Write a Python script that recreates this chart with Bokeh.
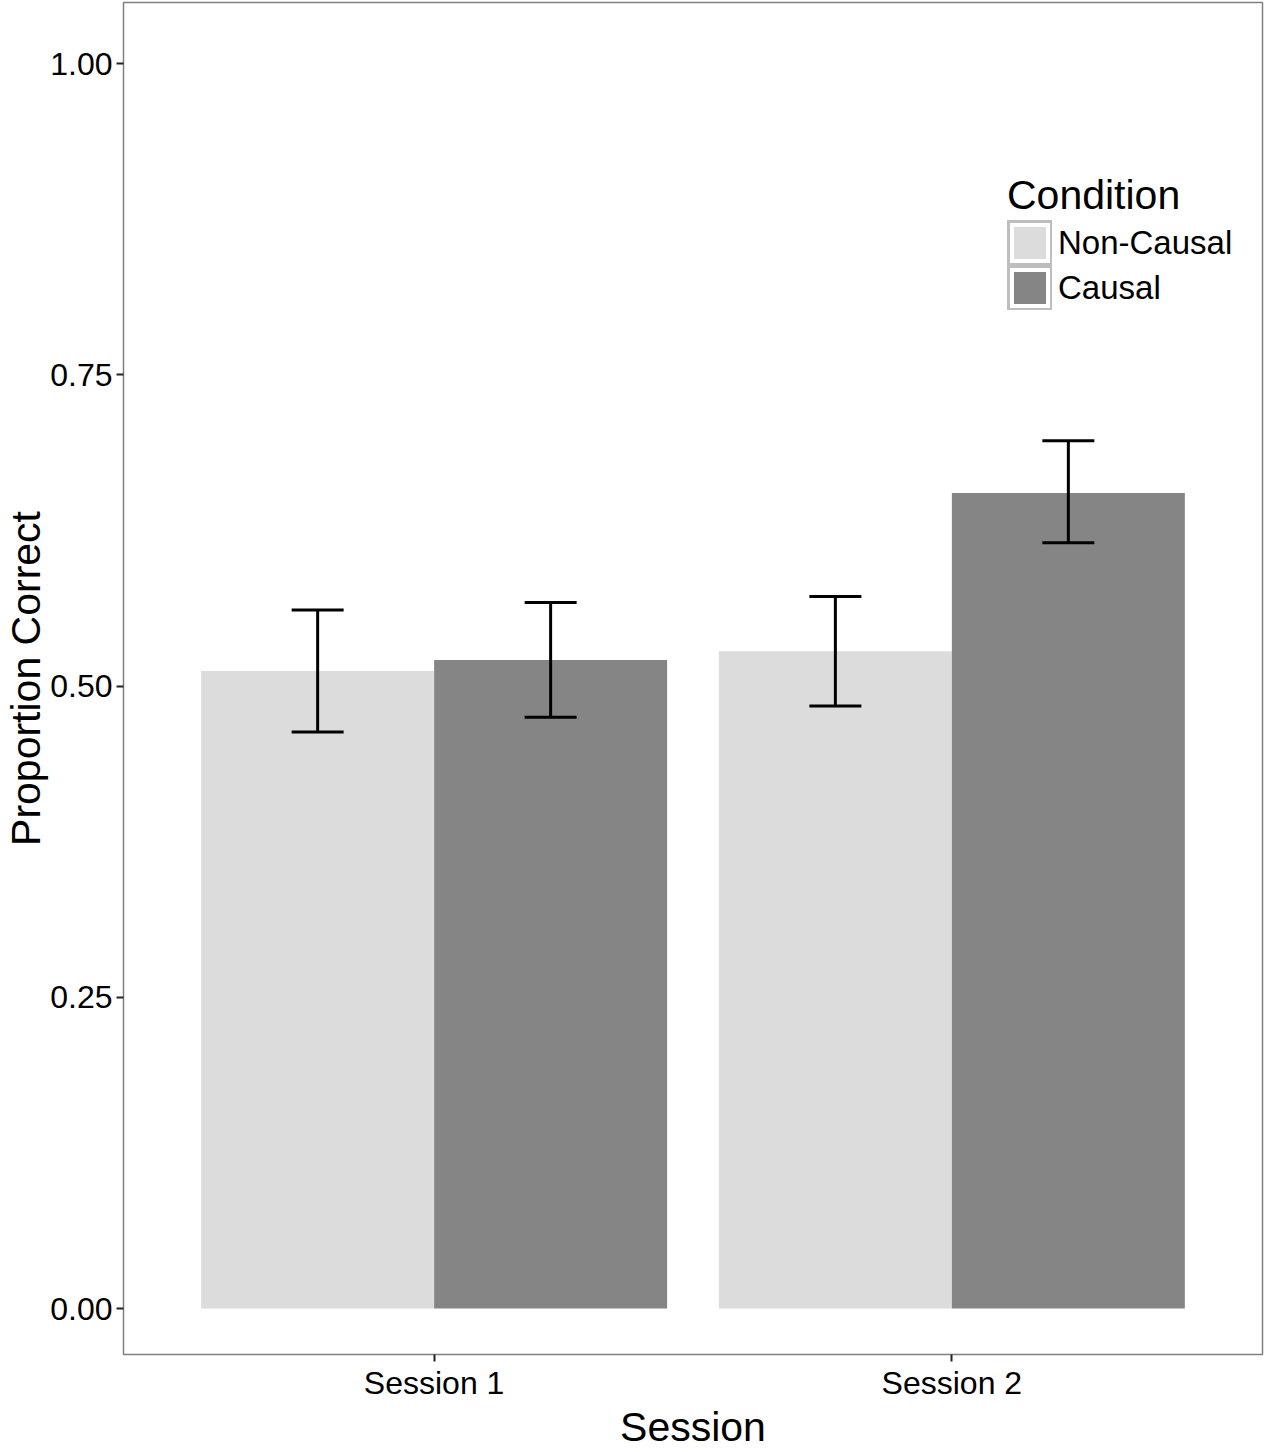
from bokeh.plotting import figure
from bokeh.models import (ColumnDataSource, FactorRange, Range1d, FixedTicker,
                          NumeralTickFormatter, Whisker, TeeHead, Legend, LegendItem)
from bokeh.transform import dodge
from bokeh.embed import file_html
from bokeh.resources import INLINE

# ---- data ----
sessions = ["Session 1", "Session 2"]
conditions = ["Non-Causal", "Causal"]
noncausal_mean = [0.512, 0.528]
noncausal_upper = [0.561, 0.572]
noncausal_lower = [0.463, 0.484]
causal_mean = [0.521, 0.655]
causal_upper = [0.567, 0.697]
causal_lower = [0.475, 0.615]
y_ticks = [0.0, 0.25, 0.5, 0.75, 1.0]

colors = {"Non-Causal": "#DCDCDC", "Causal": "#858585"}
FONT = "Liberation Sans"

src_nc = ColumnDataSource(dict(session=sessions, top=noncausal_mean,
                               upper=noncausal_upper, lower=noncausal_lower))
src_c = ColumnDataSource(dict(session=sessions, top=causal_mean,
                              upper=causal_upper, lower=causal_lower))

x_range = FactorRange(factors=sessions, range_padding=0.1, range_padding_units="absolute")
p = figure(width=1267, height=1452, x_range=x_range, y_range=Range1d(-0.0369, 1.049),
           output_backend="svg", toolbar_location=None,
           min_border_top=2, min_border_right=5, min_border_left=10, min_border_bottom=10)

bw = 0.45
r_nc = p.vbar(x=dodge("session", -bw / 2, range=p.x_range), top="top", bottom=0, width=bw,
              source=src_nc, fill_color=colors["Non-Causal"], line_color=None)
r_c = p.vbar(x=dodge("session", bw / 2, range=p.x_range), top="top", bottom=0, width=bw,
             source=src_c, fill_color=colors["Causal"], line_color=None)

for src, off in ((src_nc, -bw / 2), (src_c, bw / 2)):
    w = Whisker(base=dodge("session", off, range=p.x_range), upper="upper", lower="lower",
                source=src, line_width=3, line_color="black", level="overlay",
                upper_head=TeeHead(size=52, line_width=3, line_color="black"),
                lower_head=TeeHead(size=52, line_width=3, line_color="black"))
    p.add_layout(w)

# legend keys: renderers with one undefined (NaN) bar, so they draw only in the legend
nan = float("nan")
items = []
for cond in conditions:
    hidden = ColumnDataSource(dict(x=[sessions[0]], top=[nan], bottom=[nan]))
    r_frame = p.vbar(x="x", top="top", bottom="bottom", width=0.1, source=hidden,
                     fill_color="white", line_color="#BEBEBE", line_width=10,
                     line_join="miter")
    r_key = p.vbar(x="x", top="top", bottom="bottom", width=0.1, source=hidden,
                   fill_color=colors[cond], line_color="white", line_width=4,
                   line_join="miter")
    items.append(LegendItem(label=cond, renderers=[r_frame, r_key]))

legend = Legend(items=items, title="Condition", location=(884, 1044),
                glyph_width=45, glyph_height=45, spacing=0, label_standoff=6,
                padding=0, margin=0, border_line_color=None, background_fill_alpha=0,
                label_text_font=FONT, label_text_font_size="33px", label_text_color="black",
                title_text_font=FONT, title_text_font_size="41px", title_text_font_style="normal",
                title_text_color="black", title_standoff=1)
p.add_layout(legend, "center")

# frame / grid
p.xgrid.visible = False
p.ygrid.visible = False
p.outline_line_color = "#808080"
p.outline_line_width = 1.5
p.background_fill_color = "white"

# axes
p.yaxis.ticker = FixedTicker(ticks=y_ticks)
p.yaxis.formatter = NumeralTickFormatter(format="0.00")
for ax in (p.xaxis[0], p.yaxis[0]):
    ax.axis_line_color = None
    ax.major_tick_out = 7
    ax.major_tick_in = 0
    ax.minor_tick_line_color = None
    ax.major_tick_line_color = "#222222"
    ax.major_tick_line_width = 2
    ax.major_label_text_font = FONT
    ax.major_label_text_font_size = "32px"
    ax.major_label_text_color = "black"
    ax.axis_label_text_font = FONT
    ax.axis_label_text_font_size = "41px"
    ax.axis_label_text_font_style = "normal"
    ax.axis_label_text_color = "black"
p.yaxis.axis_label = "Proportion Correct"
p.xaxis.axis_label = "Session"
p.yaxis.major_label_standoff = 4
p.yaxis.axis_label_standoff = -2
p.xaxis.major_label_standoff = 3
p.xaxis.axis_label_standoff = 0

open("out.html", "w").write(file_html(p, INLINE))
